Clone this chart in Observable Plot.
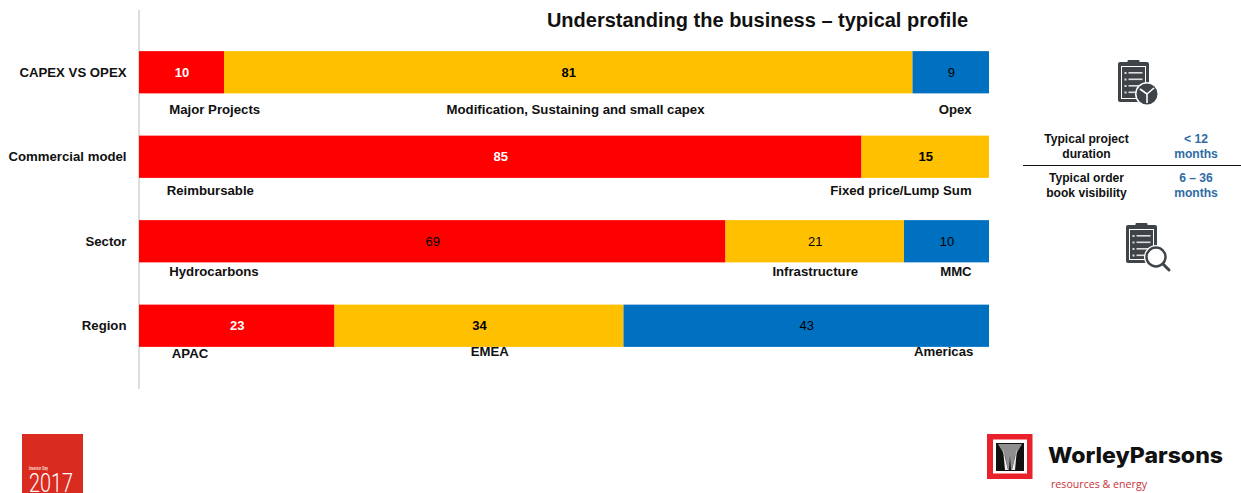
<!DOCTYPE html>
<html>
<head>
<meta charset="utf-8">
<style>
  html, body { margin: 0; padding: 0; background: #fff; }
  svg { display: block; }
</style>
<script src="https://cdn.jsdelivr.net/npm/d3@7"></script>
<script src="https://cdn.jsdelivr.net/npm/@observablehq/plot@0.6"></script>
</head>
<body>
<div id="chart"></div>
<script>
// Share of the business, in percent, for each way of slicing it
const rows = ["CAPEX VS OPEX", "Commercial model", "Sector", "Region"];
const capexOpex = [10, 81, 9];
const commercial = [85, 15];
const sector = [69, 21, 10];
const region = [23, 34, 43];
const capexNames = ["Major Projects", "Modification, Sustaining and small capex", "Opex"];
const commercialNames = ["Reimbursable", "Fixed price/Lump Sum"];
const sectorNames = ["Hydrocarbons", "Infrastructure", "MMC"];
const regionNames = ["APAC", "EMEA", "Americas"];
const bands = ["first", "second", "third"];
const bandColors = ["#ff0000", "#ffc000", "#0070c0"];

// Which value labels are set in bold or white, per row
const boldFlags = [[true, true, false], [true, true], [false, false, false], [true, true, false]];
const whiteFlags = [[true, false, false], [true, false], [false, false, false], [true, false, false]];

// Caption placement along the bar (percent) and its drop below the bar centre
const captionAt = [[3.5, 51.3, 97.9], [3.2, 97.9], [3.5, 79.5, 97.9], [3.8, 41.2, 98.1]];
const captionGap = [[37, 37, 37], [34, 34], [30, 30, 30], [28, 26, 26]];

const series = [capexOpex, commercial, sector, region];
const names = [capexNames, commercialNames, sectorNames, regionNames];

// One record per segment, with its running start so labels can sit at the centre
const table = rows.flatMap((row, i) => {
  let start = 0;
  return series[i].map((value, j) => {
    const d = {
      row, value, band: bands[j], start, end: start + value, mid: start + value / 2,
      bold: boldFlags[i][j], ink: whiteFlags[i][j] ? "white" : "black",
      name: names[i][j], at: captionAt[i][j], gap: captionGap[i][j],
      anchor: j === 0 ? "start" : j === series[i].length - 1 ? "end" : "middle"
    };
    start += value;
    return d;
  });
});

// Captions that share an alignment and a drop are drawn together
const captionGroups = d3.flatGroup(table, d => d.anchor, d => d.gap);

const FONT = "'Liberation Sans', Arial, sans-serif";
const marginLeft = 139, marginTop = 10, marginRight = 252, marginBottom = 104;

// Text placed at a fixed spot on the page rather than on a scale
const note = (text, px, py, options = {}) =>
  Plot.text([text], {
    text: d => d, frameAnchor: "top-left",
    dx: px - marginLeft, dy: py - marginTop,
    fontFamily: FONT, fontSize: 12.1, fontWeight: "bold", fill: "#111",
    lineHeight: 1.16, lineAnchor: "middle", ...options
  });

// Clipboard outline shared by the two side icons
function clipboard(g, x, y, w, h) {
  g.append("rect").attr("x", x).attr("y", y + 2).attr("width", w).attr("height", h - 2).attr("rx", 2).attr("fill", "#3f4448");
  g.append("rect").attr("x", x + 3).attr("y", y + 6).attr("width", w - 6).attr("height", h - 9).attr("fill", "#fff");
  g.append("rect").attr("x", x + 4).attr("y", y + 7).attr("width", w - 8).attr("height", h - 11).attr("fill", "#3f4448");
  g.append("rect").attr("x", x + w / 2 - 6).attr("y", y).attr("width", 12).attr("height", 6).attr("rx", 1).attr("fill", "#3f4448");
  for (let k = 0; k < 4; k++) {
    const ly = y + 12 + k * 6.5;
    g.append("rect").attr("x", x + 6.5).attr("y", ly).attr("width", 2).attr("height", 2).attr("fill", "#ddd");
    g.append("rect").attr("x", x + 10.5).attr("y", ly).attr("width", w - 17).attr("height", 1.6).attr("fill", "#ddd");
  }
}

// Wording fitted to an exact run length, used inside the logo marks
function fitted(g, str, x, y, length, font, size, weight, fill) {
  g.append("text").text(str).attr("x", x).attr("y", y).attr("text-anchor", "start")
    .attr("textLength", length).attr("lengthAdjust", "spacingAndGlyphs")
    .attr("font-family", font).attr("font-size", size).attr("font-weight", weight).attr("fill", fill);
}

// Side-table rule, side icons and the two footer logo marks
function decorations() {
  const g = d3.create("svg:g");

  g.append("line").attr("x1", 1023).attr("x2", 1241).attr("y1", 165.5).attr("y2", 165.5)
    .attr("stroke", "#111").attr("stroke-width", 1);

  const clock = g.append("g");
  clipboard(clock, 1118, 60, 31, 42);
  clock.append("circle").attr("cx", 1147).attr("cy", 94).attr("r", 12).attr("fill", "#fff");
  clock.append("circle").attr("cx", 1147).attr("cy", 94).attr("r", 10.5).attr("fill", "#3f4448");
  clock.append("path").attr("d", "M1147 94V103M1147 94L1140 89M1147 94L1154 88")
    .attr("stroke", "#fff").attr("stroke-width", 1.6).attr("fill", "none");

  const search = g.append("g");
  clipboard(search, 1126, 223, 31, 40);
  search.append("circle").attr("cx", 1156).attr("cy", 257).attr("r", 12).attr("fill", "#fff");
  search.append("circle").attr("cx", 1156).attr("cy", 257).attr("r", 9.5).attr("fill", "#fff")
    .attr("stroke", "#3f4448").attr("stroke-width", 2.4);
  search.append("line").attr("x1", 1163).attr("y1", 264).attr("x2", 1169).attr("y2", 270)
    .attr("stroke", "#3f4448").attr("stroke-width", 3).attr("stroke-linecap", "round");

  g.append("rect").attr("x", 22).attr("y", 434).attr("width", 61).attr("height", 59).attr("fill", "#d92b20");
  fitted(g, "Investor Day", 29, 469.5, 19, FONT, 4.5, "bold", "#fbe3df");
  fitted(g, "2017", 29, 491.5, 44, "Roboto, sans-serif", 26, 300, "#fff");

  g.append("rect").attr("x", 987).attr("y", 434).attr("width", 45.5).attr("height", 45).attr("fill", "#e8212a");
  g.append("rect").attr("x", 993).attr("y", 439.5).attr("width", 34).attr("height", 34).attr("fill", "#fff");
  g.append("rect").attr("x", 996).attr("y", 443).attr("width", 28).attr("height", 28).attr("fill", "#111");
  g.append("path").attr("d", "M998 444H1022L1015 456L1012 470H1011L1010 456L1009 470H1008L1005 456Z").attr("fill", "#8f8f8f");
  g.append("path").attr("d", "M1003 449L1008 470H1005ZM1017 449L1015 470H1012Z").attr("fill", "#eee");

  fitted(g, "WorleyParsons", 1048, 463, 175, "Inter, sans-serif", 22, 800, "#111");
  fitted(g, "resources & energy", 1051, 488, 96, "'Open Sans', sans-serif", 11, 400, "#c8323a");

  return g.node();
}

const chart = Plot.plot({
  width: 1241,
  height: 493,
  marginLeft, marginTop, marginRight, marginBottom,
  style: { fontFamily: FONT, background: "#fff", color: "#111" },
  x: { domain: [0, 100], axis: null },
  y: { domain: rows, range: [30, 368], round: false, paddingInner: 0.5, paddingOuter: 0.25, axis: null },
  color: { domain: bands, range: bandColors },
  marks: [
    Plot.ruleX([0], { stroke: "#bcbcbc", strokeWidth: 1, dx: -0.5 }),
    Plot.barX(table, { x1: "start", x2: "end", y: "row", fill: "band" }),
    Plot.axisY({
      anchor: "left", tickSize: 0, tickPadding: 13, label: null,
      fontSize: 13.2, fontWeight: "bold", fill: "#111", fontFamily: FONT
    }),
    // Value labels inside the bars
    Plot.text(table.filter(d => d.bold), {
      x: "mid", y: "row", text: "value", fill: "ink",
      fontFamily: FONT, fontSize: 13, fontWeight: "bold"
    }),
    Plot.text(table.filter(d => !d.bold), {
      x: "mid", y: "row", text: "value", fill: "ink",
      fontFamily: FONT, fontSize: 13
    }),
    // Segment captions underneath the bars
    ...captionGroups.map(([anchor, gap, group]) =>
      Plot.text(group, {
        x: "at", y: "row", text: "name", dy: gap, textAnchor: anchor,
        fontFamily: FONT, fontSize: 13.2, fontWeight: "bold", fill: "#111"
      })
    ),
    // Page title
    note("Understanding the business – typical profile", 757, 19.5, { fontSize: 20, textAnchor: "middle" }),
    // Side table
    note("Typical project\nduration", 1086, 145.5, { textAnchor: "middle" }),
    note("< 12\nmonths", 1195.5, 145.5, { textAnchor: "middle", fill: "#2e6ca4" }),
    note("Typical order\nbook visibility", 1086, 184.5, { textAnchor: "middle" }),
    note("6 – 36\nmonths", 1195.5, 184.5, { textAnchor: "middle", fill: "#2e6ca4" }),
    decorations
  ]
});

document.getElementById("chart").append(chart);
</script>
</body>
</html>
